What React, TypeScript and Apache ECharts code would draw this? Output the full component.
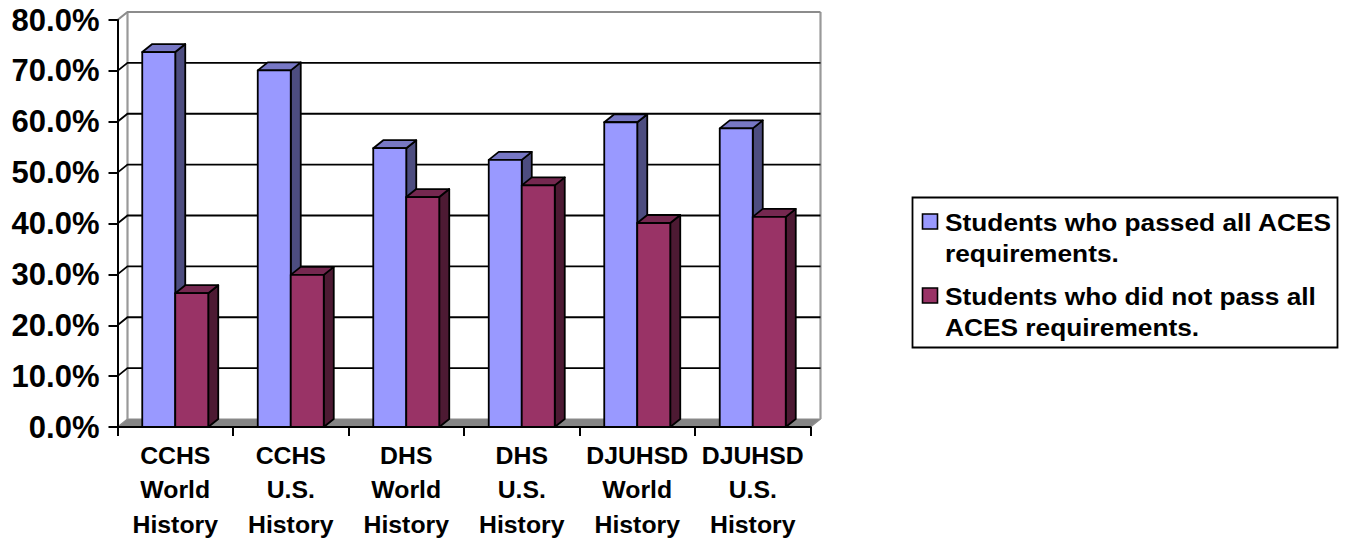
import React, { useEffect, useRef } from "react";
import * as echarts from "echarts";

const categories = [
  "CCHS\nWorld\nHistory",
  "CCHS\nU.S.\nHistory",
  "DHS\nWorld\nHistory",
  "DHS\nU.S.\nHistory",
  "DJUHSD\nWorld\nHistory",
  "DJUHSD\nU.S.\nHistory",
];
const passed = [73.7, 70.1, 54.8, 52.5, 59.9, 58.7];
const notPassed = [26.3, 29.9, 45.2, 47.5, 40.1, 41.3];
const yTicks = [0, 10, 20, 30, 40, 50, 60, 70, 80];
const seriesNames = [
  "Students who passed all ACES\nrequirements.",
  "Students who did not pass all\nACES requirements.",
];

const DX = 10;
const DY = -8;
const BAR_W = 33;
const FONT = '"Liberation Sans", Arial, sans-serif';

const poly = (points: number[][], fill: string, stroke: string, lineWidth: number) => ({
  type: "polygon",
  shape: { points },
  style: { fill, stroke, lineWidth, lineJoin: "round" },
});

const barRenderer = (offset: number, front: string, top: string, side: string) =>
  (_: any, api: any) => {
    const t = api.coord([api.value(0), api.value(1)]);
    const b = api.coord([api.value(0), 0]);
    const x0 = t[0] + offset;
    const x1 = x0 + BAR_W;
    return {
      type: "group",
      children: [
        poly([[x1, t[1]], [x1 + DX, t[1] + DY], [x1 + DX, b[1] + DY], [x1, b[1]]], side, "#000", 1.8),
        poly([[x0, t[1]], [x0 + DX, t[1] + DY], [x1 + DX, t[1] + DY], [x1, t[1]]], top, "#000", 1.8),
        poly([[x0, t[1]], [x1, t[1]], [x1, b[1]], [x0, b[1]]], front, "#000", 1.8),
      ],
    };
  };

const wallRenderer = (params: any, api: any) => {
  const v = api.value(0);
  const left = api.coord([0, v]);
  const band = api.size([1, 0])[0];
  const x0 = left[0] - band / 2;
  const x1 = x0 + band * categories.length;
  const y = left[1];
  const isTop = v === yTicks[yTicks.length - 1];
  const color = isTop ? "#8c8c8c" : "#000";
  const w = isTop ? 2.2 : 1.8;
  const children: any[] = [];
  if (v === 0) {
    children.push(
      poly([[x0, y], [x0 + DX, y + DY], [x1 + DX, y + DY], [x1, y]], "#858585", "#8c8c8c", 1.2)
    );
    const topY = api.coord([0, yTicks[yTicks.length - 1]])[1];
    children.push({
      type: "line",
      shape: { x1: x0 + DX, y1: y + DY, x2: x0 + DX, y2: topY + DY },
      style: { stroke: "#999", lineWidth: 2.2 },
    });
    children.push({
      type: "line",
      shape: { x1: x1 + DX, y1: y + DY, x2: x1 + DX, y2: topY + DY },
      style: { stroke: "#999", lineWidth: 2.2 },
    });
  } else {
    children.push({
      type: "polyline",
      shape: { points: [[x0, y], [x0 + DX, y + DY], [x1 + DX, y + DY]] },
      style: { stroke: color, lineWidth: w, fill: "none" },
    });
  }
  return { type: "group", children };
};

const legendText = (x: number, y: number, text: string) => ({
  type: "text",
  x,
  y,
  scaleX: 1.06,
  style: {
    text,
    font: `bold 24.8px ${FONT}`,
    lineHeight: 31,
    fill: "#000",
    textAlign: "left",
    textVerticalAlign: "top",
  },
});

const legendSwatch = (y: number, fill: string) => ({
  type: "rect",
  shape: { x: 922.5, y, width: 15, height: 15 },
  style: { fill, stroke: "#000", lineWidth: 1.6 },
});

export default function App() {
  const ref = useRef<HTMLDivElement>(null);
  useEffect(() => {
    const chart = echarts.init(ref.current!, undefined, { renderer: "svg" });
    chart.setOption({
      animation: false,
      backgroundColor: "#fff",
      grid: { left: 117.5, top: 20, width: 693, height: 407 },
      xAxis: {
        type: "category",
        data: categories,
        z: 5,
        axisLine: { lineStyle: { color: "#000", width: 2 } },
        axisTick: { show: true, length: 9, alignWithLabel: false, lineStyle: { color: "#000", width: 2 } },
        axisLabel: {
          interval: 0,
          margin: 11,
          color: "#000",
          fontFamily: FONT,
          fontWeight: "bold",
          fontSize: 24.8,
          lineHeight: 34.5,
        },
      },
      yAxis: {
        type: "value",
        min: 0,
        max: 80,
        interval: 10,
        z: 5,
        splitLine: { show: false },
        axisLine: { show: true, lineStyle: { color: "#000", width: 2 } },
        axisTick: { show: true, length: 9, lineStyle: { color: "#000", width: 2 } },
        axisLabel: {
          margin: 18,
          color: "#000",
          fontFamily: FONT,
          fontWeight: "bold",
          fontSize: 31,
          formatter: (v: number) => v.toFixed(1) + "%",
        },
      },
      series: [
        {
          type: "custom",
          name: "walls",
          z: 1,
          silent: true,
          data: yTicks.map((v) => [v]),
          encode: { y: 0 },
          renderItem: wallRenderer,
        },
        {
          type: "custom",
          name: seriesNames[0],
          z: 2,
          data: passed.map((v, i) => [i, v]),
          encode: { x: 0, y: 1 },
          renderItem: barRenderer(-BAR_W, "#9999FF", "#7777C4", "#4D4D80"),
        },
        {
          type: "custom",
          name: seriesNames[1],
          z: 3,
          data: notPassed.map((v, i) => [i, v]),
          encode: { x: 0, y: 1 },
          renderItem: barRenderer(0, "#993366", "#752850", "#4D1A33"),
        },
      ],
      graphic: [
        {
          type: "rect",
          shape: { x: 912.5, y: 197.5, width: 425, height: 150 },
          style: { fill: "#fff", stroke: "#000", lineWidth: 1.8 },
        },
        legendSwatch(214, "#9999FF"),
        legendText(945, 207, seriesNames[0]),
        legendSwatch(288, "#993366"),
        legendText(945, 281, seriesNames[1]),
      ],
    });
    return () => chart.dispose();
  }, []);
  return (
    <div
      ref={ref}
      style={{ position: "fixed", left: 0, top: 0, width: 1345, height: 544 }}
    />
  );
}
